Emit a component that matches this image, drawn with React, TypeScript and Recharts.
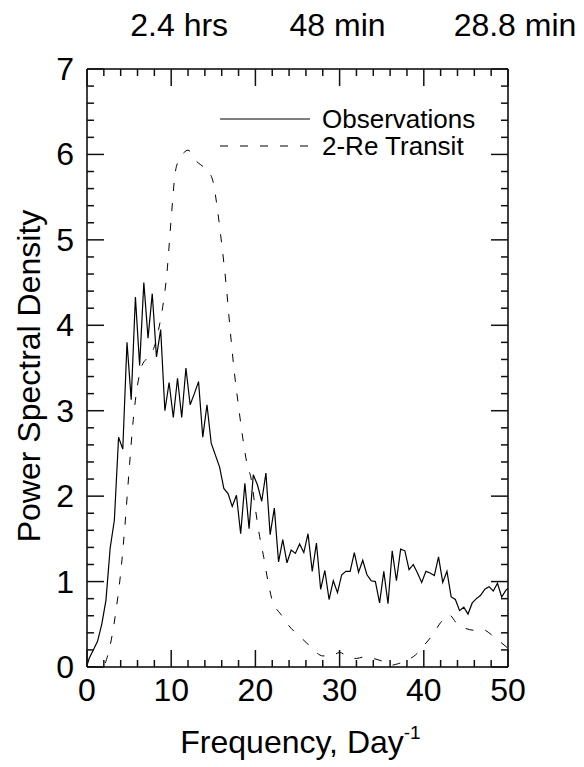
import { LineChart, Line, XAxis, YAxis, Legend } from 'recharts';

// Observed power spectrum, sampled every 0.5 day^-1
const obsFreq = [
  0, 0.25, 0.75, 1.25, 1.75, 2.25, 2.75, 3.25, 3.75, 4.25, 4.75, 5.25, 5.75, 6.25, 6.75,
  7.25, 7.75, 8.25, 8.75, 9.25, 9.75, 10.25, 10.75, 11.25, 11.75, 12.25, 12.75, 13.25,
  13.75, 14.25, 14.75, 15.25, 15.75, 16.25, 16.75, 17.25, 17.75, 18.25, 18.75, 19.25,
  19.75, 20.25, 20.75, 21.25, 21.75, 22.25, 22.75, 23.25, 23.75, 24.25, 24.75, 25.25,
  25.75, 26.25, 26.75, 27.25, 27.75, 28.25, 28.75, 29.25, 29.75, 30.25, 30.75, 31.25,
  31.75, 32.25, 32.75, 33.25, 33.75, 34.25, 34.75, 35.25, 35.75, 36.25, 36.75, 37.25,
  37.75, 38.25, 38.75, 39.25, 39.75, 40.25, 40.75, 41.25, 41.75, 42.25, 42.75, 43.25,
  43.75, 44.25, 44.75, 45.25, 45.75, 46.25, 46.75, 47.25, 47.75, 48.25, 48.75, 49.25,
  49.75, 50
];
const obsPsd = [
  0.02, 0.1, 0.2, 0.3, 0.5, 0.78, 1.39, 1.72, 2.69, 2.55, 3.8, 3.13, 4.33, 3.53, 4.5,
  3.85, 4.37, 3.63, 3.95, 3.0, 3.33, 2.92, 3.38, 2.92, 3.5, 3.07, 3.2, 3.34,
  2.69, 3.07, 2.62, 2.48, 2.34, 2.09, 2.03, 1.88, 2.01, 1.56, 2.15, 1.62,
  2.25, 2.13, 1.94, 2.27, 1.55, 1.86, 1.23, 1.49, 1.22, 1.37, 1.33, 1.44,
  1.34, 1.56, 1.12, 1.45, 0.91, 1.13, 0.79, 1.01, 0.87, 1.08, 1.12, 1.12,
  1.34, 1.11, 1.25, 1.08, 1.01, 1.0, 0.75, 1.12, 0.74, 1.36, 1.01, 1.38,
  1.36, 1.14, 1.2, 1.1, 0.99, 1.12, 1.1, 1.07, 1.29, 0.99, 1.12, 0.82,
  0.79, 0.66, 0.7, 0.62, 0.75, 0.8, 0.84, 0.91, 0.94, 0.89, 0.98, 0.82,
  0.9, 0.92
];

// Model spectrum of a 2 Earth-radius transit
const transitFreq = [
  0, 1, 1.5, 2, 2.5, 3, 3.5, 4, 4.5, 5, 5.5, 6, 6.5, 7, 7.5, 8, 8.5, 9, 9.5, 10, 10.5,
  11, 11.5, 12, 12.5, 13, 13.5, 14, 14.5, 15, 15.5, 16, 16.5, 17, 17.5, 18, 18.5, 19,
  19.5, 20, 20.5, 21, 21.5, 22, 22.5, 23, 24, 25, 26, 27, 28, 29, 30, 31, 32, 33, 34,
  35, 36, 37, 38, 39, 40, 41, 42, 43, 44, 45, 46, 47, 48, 49, 50
];
const transitPsd = [
  0, 0, 0, 0.02, 0.15, 0.38, 0.7, 1.1, 1.65, 2.3, 2.9, 3.3, 3.52, 3.6, 3.65, 3.75, 3.95,
  4.22, 4.62, 5.25, 5.8, 5.95, 6.02, 6.05, 6.0, 5.92, 5.88, 5.84, 5.79, 5.67, 5.35, 4.95,
  4.5, 3.95, 3.45, 3.05, 2.68, 2.38, 2.2, 1.85, 1.53, 1.28, 1.0, 0.78, 0.68, 0.62, 0.48,
  0.38, 0.29, 0.19, 0.13, 0.13, 0.17, 0.12, 0.1, 0.12, 0.1, 0.07, 0.02, 0.04, 0.08, 0.14,
  0.25, 0.37, 0.52, 0.61, 0.5, 0.45, 0.43, 0.44, 0.38, 0.3, 0.22
];

const seriesNames = ['Observations', '2-Re Transit'];

const xMajorTicks = [0, 10, 20, 30, 40, 50];
const xTicks = [0, 2, 4, 6, 8, 10, 12, 14, 16, 18, 20, 22, 24, 26, 28, 30, 32, 34, 36, 38, 40, 42, 44, 46, 48, 50];
const yMajorTicks = [0, 1, 2, 3, 4, 5, 6, 7];
const yTicks = [
  0, 0.2, 0.4, 0.6, 0.8, 1, 1.2, 1.4, 1.6, 1.8, 2, 2.2, 2.4, 2.6, 2.8, 3, 3.2, 3.4, 3.6,
  3.8, 4, 4.2, 4.4, 4.6, 4.8, 5, 5.2, 5.4, 5.6, 5.8, 6, 6.2, 6.4, 6.6, 6.8, 7
];

// period labels along the top axis
const periodFreq = [10, 30, 50];
const periodText = ['2.4 hrs', '48 min', '28.8 min'];
const periodShift = [8, -2, 7];

const observations = obsFreq.map((f, i) => ({ f, psd: obsPsd[i] }));
const transit = transitFreq.map((f, i) => ({ f, psd: transitPsd[i] }));

const FONT = '"Liberation Sans", Arial, Helvetica, sans-serif';
const MAJOR = 17;
const MINOR = 7;
const TICK_STROKE = 1.5;
const TICK_COLOR = '#111';

const BottomTick = (props: any) => {
  const { x, y, payload } = props;
  const major = xMajorTicks.includes(payload.value);
  return (
    <g>
      <line x1={x} x2={x} y1={y} y2={y - (major ? MAJOR : MINOR)} stroke={TICK_COLOR} strokeWidth={TICK_STROKE} />
      {major && (
        <text x={x} y={y + 34} textAnchor="middle" fontSize={32} fill="#000" fontFamily={FONT}>
          {payload.value}
        </text>
      )}
    </g>
  );
};

const TopTick = (props: any) => {
  const { x, y, payload } = props;
  const major = xMajorTicks.includes(payload.value);
  const idx = periodFreq.indexOf(payload.value);
  return (
    <g>
      <line x1={x} x2={x} y1={y} y2={y + (major ? MAJOR : MINOR)} stroke={TICK_COLOR} strokeWidth={TICK_STROKE} />
      {idx >= 0 && (
        <text x={x + periodShift[idx]} y={y - 33} textAnchor="middle" fontSize={32} fill="#000" fontFamily={FONT}>
          {periodText[idx]}
        </text>
      )}
    </g>
  );
};

const LeftTick = (props: any) => {
  const { x, y, payload } = props;
  const major = yMajorTicks.includes(payload.value);
  return (
    <g>
      <line x1={x} x2={x + (major ? MAJOR : MINOR)} y1={y} y2={y} stroke={TICK_COLOR} strokeWidth={TICK_STROKE} />
      {major && (
        <text x={x - 13} y={y + 11} textAnchor="end" fontSize={32} fill="#000" fontFamily={FONT}>
          {payload.value}
        </text>
      )}
    </g>
  );
};

const RightTick = (props: any) => {
  const { x, y, payload } = props;
  const major = yMajorTicks.includes(payload.value);
  return (
    <line x1={x} x2={x - (major ? MAJOR : MINOR)} y1={y} y2={y} stroke={TICK_COLOR} strokeWidth={TICK_STROKE} />
  );
};

const XTitle = (props: any) => {
  const { viewBox } = props;
  const cx = viewBox.x + viewBox.width / 2 + 3;
  return (
    <text x={cx} y={viewBox.y + 86} textAnchor="middle" fontSize={32} fill="#000" fontFamily={FONT}>
      <tspan>Frequency, Day</tspan>
      <tspan dy={-14} fontSize={19}>-1</tspan>
    </text>
  );
};

const YTitle = (props: any) => {
  const { viewBox } = props;
  const cx = viewBox.x - 46;
  const cy = viewBox.y + viewBox.height / 2 + 8;
  return (
    <text
      x={cx}
      y={cy}
      transform={`rotate(-90, ${cx}, ${cy})`}
      textAnchor="middle"
      fontSize={32}
      fill="#000"
      fontFamily={FONT}
    >
      Power Spectral Density
    </text>
  );
};

const LegendBox = (props: any) => {
  const raw = props.payload && props.payload.length ? props.payload : seriesNames.map((n) => ({ value: n }));
  const items = raw
    .filter((e: any) => seriesNames.includes(e.value))
    .sort((a: any, b: any) => seriesNames.indexOf(a.value) - seriesNames.indexOf(b.value));
  return (
    <svg width={290} height={62} style={{ display: 'block', overflow: 'visible' }}>
      {items.map((entry: any, i: number) => {
        const ly = 21 + i * 27;
        const dash = entry.payload && entry.payload.strokeDasharray;
        return (
          <g key={i}>
            <line x1={6} x2={96} y1={ly} y2={ly} stroke="#000" strokeWidth={1} strokeDasharray={dash} />
            <text x={108} y={ly + 9} fontSize={26} fill="#000" fontFamily={FONT}>
              {entry.value}
            </text>
          </g>
        );
      })}
    </svg>
  );
};

export default function App() {
  return (
    <div style={{ position: 'absolute', left: 0, top: 0, background: '#fff' }}>
      <LineChart
        width={584}
        height={767}
        margin={{ top: 68, right: 75, bottom: 99, left: 86 }}
        style={{ fontFamily: FONT }}
      >
        <XAxis
          xAxisId="bottom"
          dataKey="f"
          type="number"
          domain={[0, 50]}
          allowDataOverflow
          ticks={xTicks}
          interval={0}
          height={1}
          tickSize={0}
          tickMargin={0}
          tickLine={false}
          tick={BottomTick}
          axisLine={{ stroke: '#000', strokeWidth: 1.5 }}
          label={<XTitle />}
        />
        <XAxis
          xAxisId="top"
          orientation="top"
          dataKey="f"
          type="number"
          domain={[0, 50]}
          allowDataOverflow
          ticks={xTicks}
          interval={0}
          height={1}
          tickSize={0}
          tickMargin={0}
          tickLine={false}
          tick={TopTick}
          axisLine={{ stroke: '#000', strokeWidth: 1.5 }}
        />
        <YAxis
          yAxisId="left"
          type="number"
          domain={[0, 7]}
          allowDataOverflow
          ticks={yTicks}
          interval={0}
          width={1}
          tickSize={0}
          tickMargin={0}
          tickLine={false}
          tick={LeftTick}
          axisLine={{ stroke: '#000', strokeWidth: 1.5 }}
          label={<YTitle />}
        />
        <YAxis
          yAxisId="right"
          orientation="right"
          type="number"
          domain={[0, 7]}
          allowDataOverflow
          ticks={yTicks}
          interval={0}
          width={1}
          tickSize={0}
          tickMargin={0}
          tickLine={false}
          tick={RightTick}
          axisLine={{ stroke: '#000', strokeWidth: 1.5 }}
        />
        <Line
          xAxisId="bottom"
          yAxisId="left"
          data={observations}
          dataKey="psd"
          name={seriesNames[0]}
          type="linear"
          stroke="#000"
          strokeWidth={1.2}
          dot={false}
          activeDot={false}
          isAnimationActive={false}
        />
        <Line
          xAxisId="bottom"
          yAxisId="left"
          data={transit}
          dataKey="psd"
          name={seriesNames[1]}
          type="monotone"
          stroke="#000"
          strokeWidth={1}
          strokeDasharray="8 12"
          dot={false}
          activeDot={false}
          isAnimationActive={false}
        />
        {/* invisible copy so the top and right frame axes get a domain and draw their ticks */}
        <Line
          xAxisId="top"
          yAxisId="right"
          data={observations}
          dataKey="psd"
          name="frame"
          legendType="none"
          stroke="none"
          dot={false}
          activeDot={false}
          isAnimationActive={false}
        />
        <Legend
          layout="vertical"
          align="center"
          verticalAlign="middle"
          wrapperStyle={{ left: 214, top: 98, width: 290, height: 62 }}
          content={LegendBox}
        />
      </LineChart>
    </div>
  );
}
